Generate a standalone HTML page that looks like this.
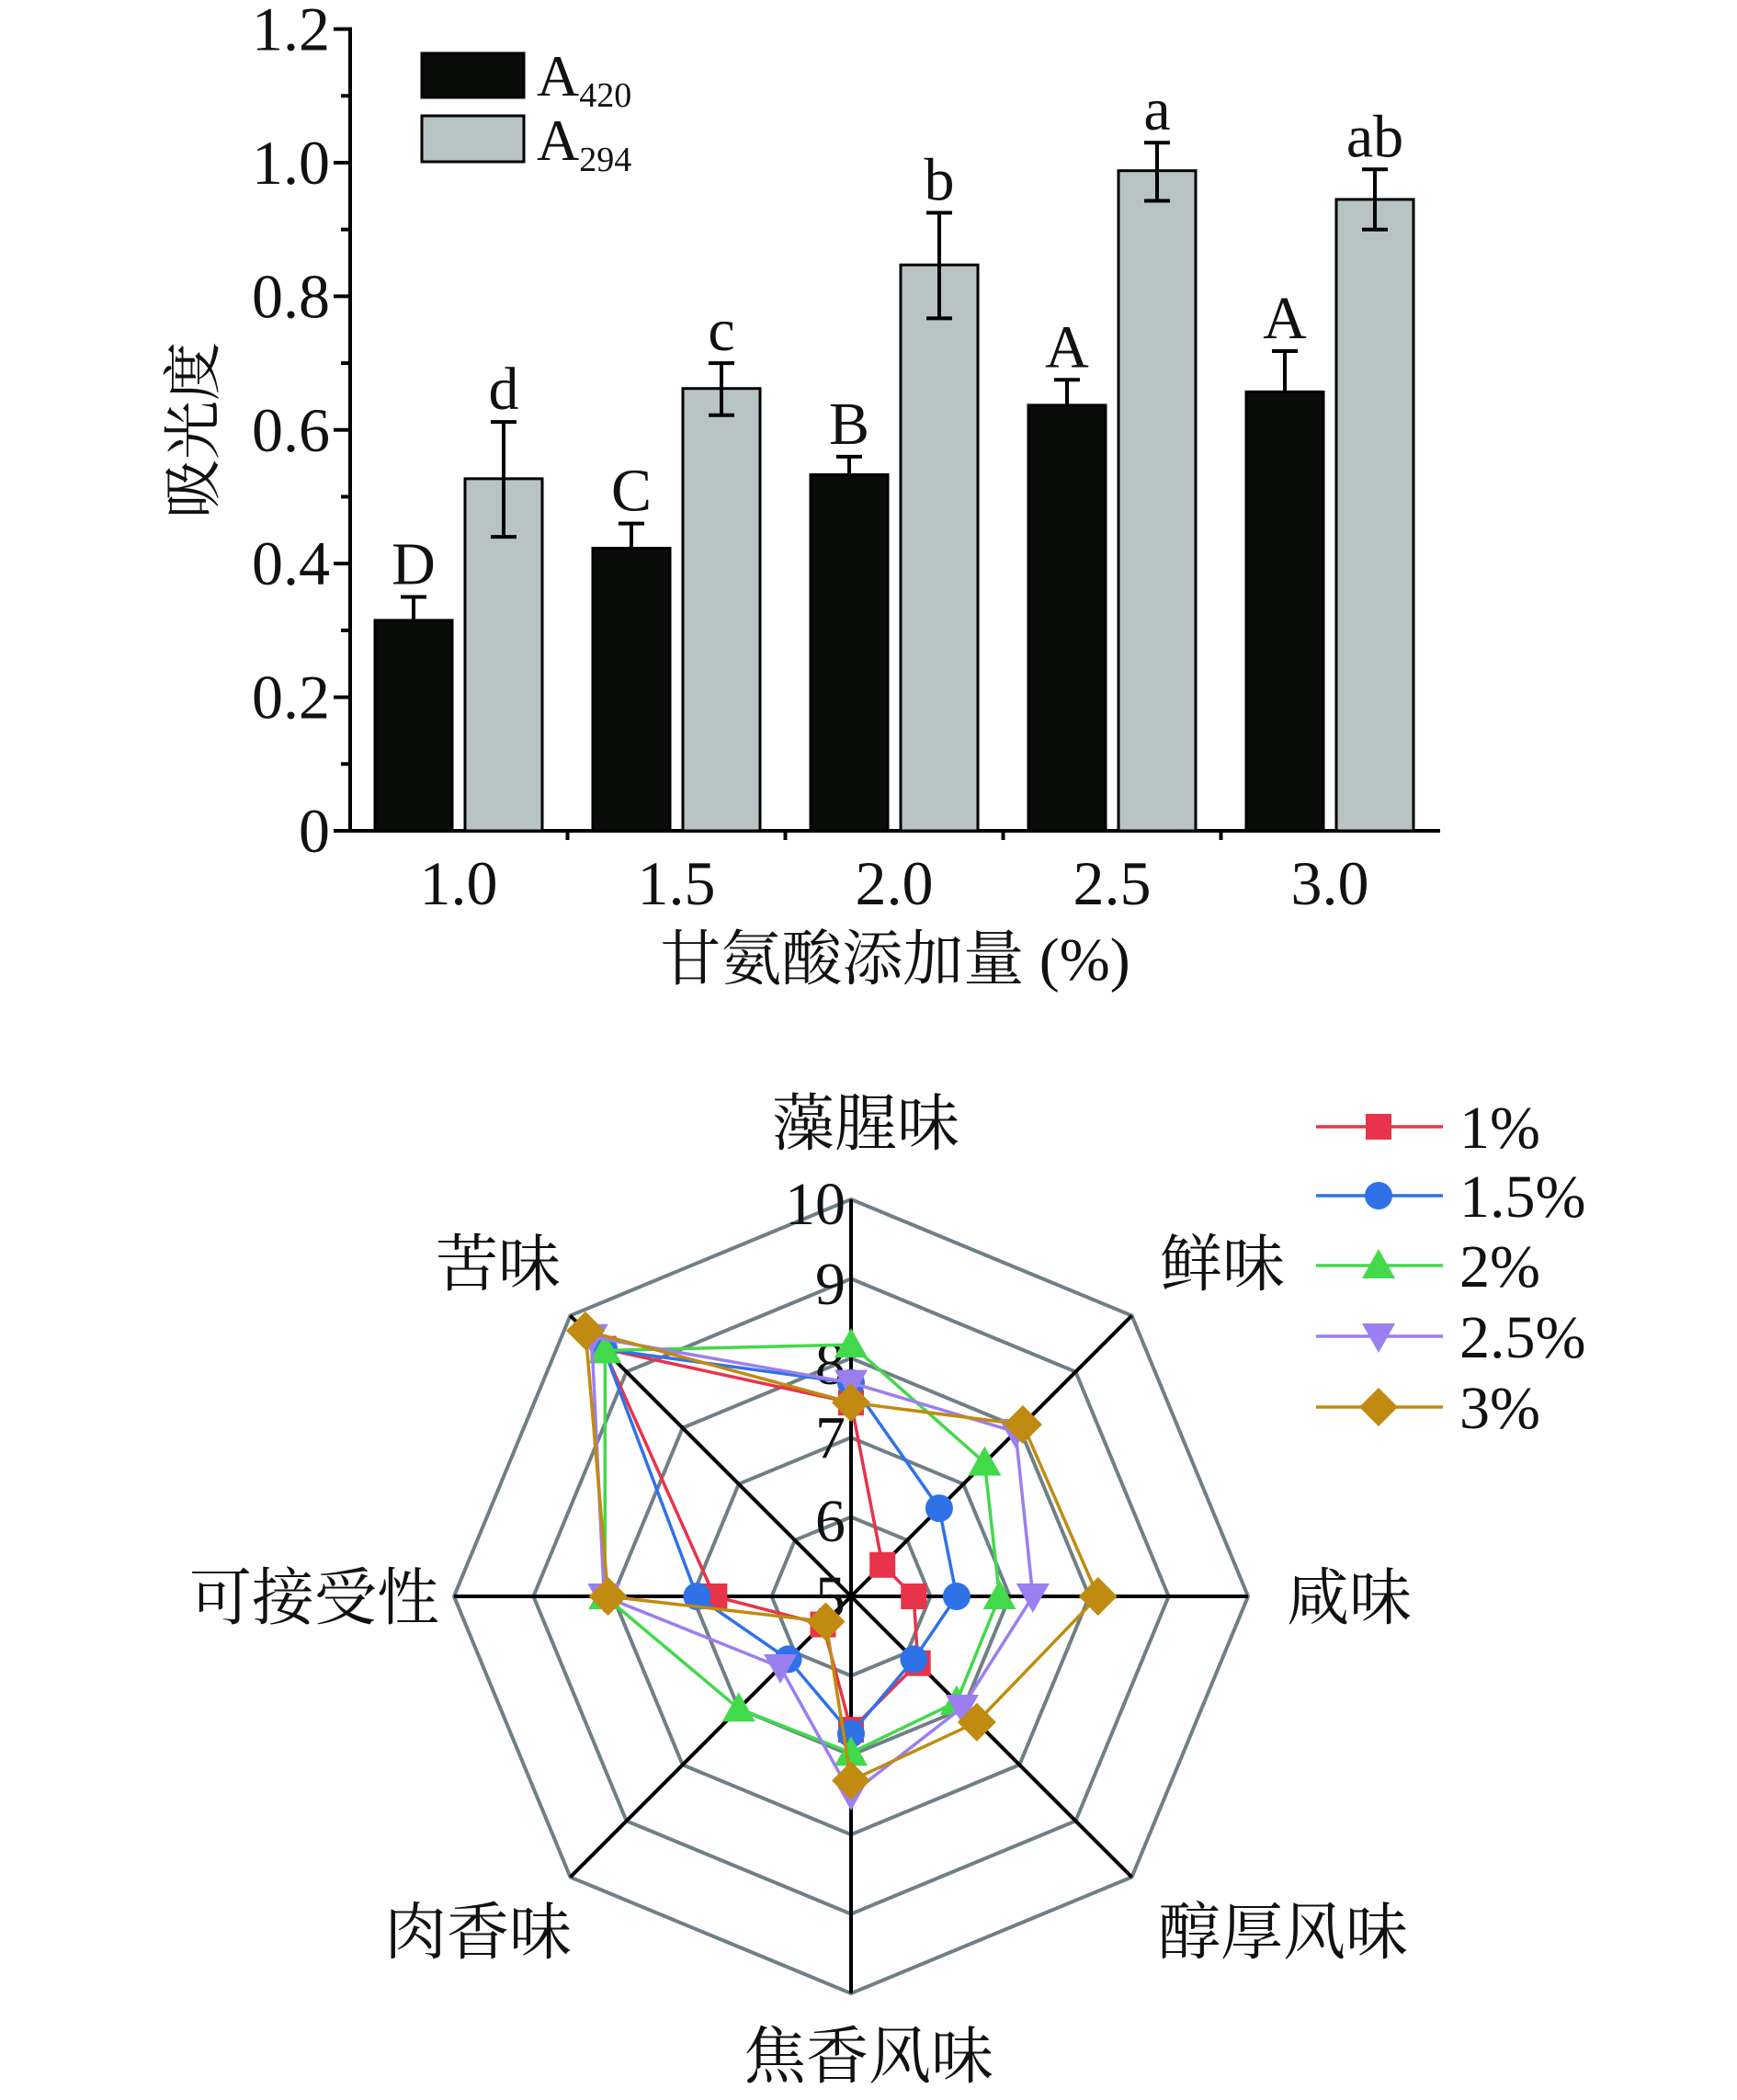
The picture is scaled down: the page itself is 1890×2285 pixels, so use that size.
<!DOCTYPE html>
<html><head><meta charset="utf-8"><style>
html,body{margin:0;padding:0;background:#fff;}
svg{display:block;}
text{font-family:"Liberation Serif","Noto Serif CJK SC",serif;fill:#111;}
.cj{font-family:"Liberation Serif","Noto Serif CJK SC",serif;}
</style></head><body>
<svg id="s" width="1890" height="2285" viewBox="0 0 1890 2285" xmlns="http://www.w3.org/2000/svg">
<g id="bar"></g><g id="radar"></g>
<text x="218" y="468" font-size="64" text-anchor="middle" transform="rotate(-90 218 468)" class="cj" dominant-baseline="middle">吸光度</text>
<text x="974" y="1066" font-size="66" text-anchor="middle" class="cj">甘氨酸添加量 (%)</text>
<rect x="459" y="58" width="111" height="48" fill="#0a0c0a" stroke="#000" stroke-width="3"/>
<rect x="459" y="126" width="111" height="50" fill="#b8c4c4" stroke="#000" stroke-width="3"/>
<text x="584" y="104" font-size="64">A<tspan font-size="38" dy="12">420</tspan></text>
<text x="584" y="174" font-size="64">A<tspan font-size="38" dy="12">294</tspan></text>
</svg>
<script>
const NS="http://www.w3.org/2000/svg";
function el(p,t,a,txt){const e=document.createElementNS(NS,t);for(const k in a)e.setAttribute(k,a[k]);if(txt!==undefined)e.textContent=txt;p.appendChild(e);return e;}
const bar=document.getElementById('bar');
const X0=381,Y0=904,XR=1567,PU=727;
const yv=v=>Y0-v*PU;
el(bar,'line',{x1:X0,y1:yv(1.2)-2,x2:X0,y2:Y0,stroke:'#000','stroke-width':4});
el(bar,'line',{x1:X0,y1:Y0,x2:XR,y2:Y0,stroke:'#000','stroke-width':4});
for(let i=0;i<=12;i++){const y=yv(i/10);el(bar,'line',{x1:X0-(i%2?10:18),y1:y,x2:X0,y2:y,stroke:'#000','stroke-width':4});
 if(i%2==0)el(bar,'text',{x:X0-22,y:y+23,'font-size':68,'text-anchor':'end'},i==0?'0':(i/10).toFixed(1));}
const cx=[499,736,973,1210,1447],cats=['1.0','1.5','2.0','2.5','3.0'];
for(let i=1;i<5;i++){const x=(cx[i-1]+cx[i])/2;el(bar,'line',{x1:x,y1:Y0,x2:x,y2:Y0+10,stroke:'#000','stroke-width':4});}
const a=[[.315,.35],[.423,.46],[.533,.56],[.637,.675],[.657,.718]];
const b=[[.527,.44,.612],[.662,.622,.70],[.847,.767,.925],[.988,.943,1.03],[.945,.90,.99]];
const L1=['D','C','B','A','A'],L2=['d','c','b','a','ab'];
cx.forEach((c,i)=>{
 el(bar,'text',{x:c,y:984,'font-size':68,'text-anchor':'middle'},cats[i]);
 const bx=c-91,gx=c+7,w=84;
 el(bar,'rect',{x:bx,y:yv(a[i][0]),width:w,height:Y0-yv(a[i][0]),fill:'#0a0c0a',stroke:'#000','stroke-width':3});
 el(bar,'rect',{x:gx,y:yv(b[i][0]),width:w,height:Y0-yv(b[i][0]),fill:'#b8c4c4',stroke:'#000','stroke-width':3});
 const bc=bx+w/2,gc=gx+w/2;
 el(bar,'line',{x1:bc,y1:yv(a[i][0]),x2:bc,y2:yv(a[i][1]),stroke:'#000','stroke-width':4});
 el(bar,'line',{x1:bc-14,y1:yv(a[i][1]),x2:bc+14,y2:yv(a[i][1]),stroke:'#000','stroke-width':4});
 el(bar,'line',{x1:gc,y1:yv(b[i][1]),x2:gc,y2:yv(b[i][2]),stroke:'#000','stroke-width':4});
 [1,2].forEach(k=>el(bar,'line',{x1:gc-14,y1:yv(b[i][k]),x2:gc+14,y2:yv(b[i][k]),stroke:'#000','stroke-width':4}));
 el(bar,'text',{x:bc,y:yv(a[i][1])-14,'font-size':66,'text-anchor':'middle'},L1[i]);
 el(bar,'text',{x:gc,y:yv(b[i][2])-14,'font-size':66,'text-anchor':'middle'},L2[i]);
});
const r=document.getElementById('radar');
const CX=926,CY=1737,R=432;
const pt=(k,v)=>{const ang=-Math.PI/2+k*Math.PI/4,rr=(v-5)/5*R;return [CX+rr*Math.cos(ang),CY+rr*Math.sin(ang)];};
for(let v=6;v<=10;v++){let p=[];for(let k=0;k<8;k++)p.push(pt(k,v).join(','));el(r,'polygon',{points:p.join(' '),fill:'none',stroke:'#6f7f86','stroke-width':4});}
for(let k=0;k<8;k++){const p=pt(k,10);el(r,'line',{x1:CX,y1:CY,x2:p[0],y2:p[1],stroke:'#000','stroke-width':4});}
[[10,1309],[9,1396],[8,1483],[7,1563],[6,1654],[5,1737]].forEach(([v,y])=>el(r,'text',{x:920,y:y+23,'font-size':66,'text-anchor':'end'},v));
const labs=[['藻腥味',942,1221],['鲜味',1330,1374],['咸味',1468,1737],['醇厚风味',1396,2101],['焦香风味',945,2236],['肉香味',520,2101],['可接受性',342,1737],['苦味',542,1374]];
labs.forEach(([t,x,y])=>el(r,'text',{x:x,y:y+25,'font-size':68,'text-anchor':'middle',class:'cj'},t));
const series=[
 ['#e8334a','sq',[7.44,5.56,5.79,6.19,6.68,5.5,6.72,9.41],'1%'],
 ['#2f72e8','ci',[7.69,6.57,6.33,6.12,6.73,6.12,6.94,9.4],'1.5%'],
 ['#42d94a','tu',[8.17,7.38,6.87,6.88,6.97,7.0,8.1,9.38],'2%'],
 ['#9b7ef0','td',[7.69,7.93,7.29,6.98,7.49,6.26,8.11,9.62],'2.5%'],
 ['#c08b10','di',[7.44,8.06,8.11,7.24,7.32,5.45,8.06,9.73],'3%']];
function mk(p,t,x,y,c){const s=16;
 if(t=='sq')el(p,'rect',{x:x-s+2,y:y-s+2,width:2*s-4,height:2*s-4,fill:c});
 if(t=='ci')el(p,'circle',{cx:x,cy:y,r:s-1,fill:c});
 if(t=='tu')el(p,'polygon',{points:`${x},${y-s-2} ${x+s+2},${y+s-2} ${x-s-2},${y+s-2}`,fill:c});
 if(t=='td')el(p,'polygon',{points:`${x},${y+s+2} ${x+s+2},${y-s+2} ${x-s-2},${y-s+2}`,fill:c});
 if(t=='di')el(p,'polygon',{points:`${x},${y-s-5} ${x+s+5},${y} ${x},${y+s+5} ${x-s-5},${y}`,fill:c});}
series.forEach(([c,t,v])=>{const ps=v.map((vv,k)=>pt(k,vv));el(r,'polygon',{points:ps.map(p=>p.join(',')).join(' '),fill:'none',stroke:c,'stroke-width':3.5});ps.forEach(p=>mk(r,t,p[0],p[1],c));});
const ly=[1226,1301,1377,1454,1531];
series.forEach(([c,t,v,n],i)=>{el(r,'line',{x1:1432,y1:ly[i],x2:1570,y2:ly[i],stroke:c,'stroke-width':3.5});mk(r,t,1500,ly[i],c);el(r,'text',{x:1588,y:ly[i]+23,'font-size':66},n);});
</script>
</body></html>
